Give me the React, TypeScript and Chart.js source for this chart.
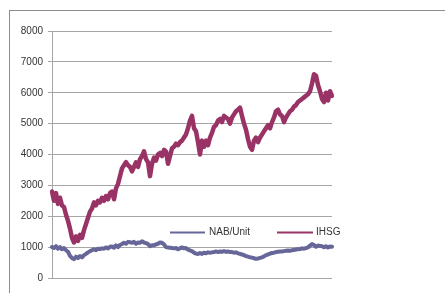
import React, { useEffect, useRef } from "react";
import { Chart, registerables } from "chart.js";

Chart.register(...registerables);

const IHSG: number[] = [
  2800, 2500, 2750, 2400, 2600, 2350, 2300, 2050, 1850, 1600,
  1300, 1150, 1350, 1200, 1400, 1300, 1550, 1750, 1950, 2150,
  2250, 2450, 2350, 2500, 2450, 2600, 2500, 2650, 2550, 2750,
  2800, 2550, 2900, 3050, 3300, 3550, 3650, 3750, 3650, 3600,
  3450, 3600, 3750, 3600, 3850, 3950, 4100, 3850, 3750, 3300,
  3700, 3900, 3800, 4000, 4050, 3950, 4150, 4100, 3700, 3950,
  4200, 4250, 4350, 4300, 4400, 4450, 4550, 4650, 4850, 5100,
  5250, 4850, 4750, 4400, 4000, 4450, 4250, 4450, 4300, 4550,
  4700, 4900, 4950, 5100, 5150, 5050, 5250, 5200, 5150, 5000,
  5200, 5300, 5400, 5450, 5520, 5250, 5000, 4800, 4500, 4250,
  4150, 4450, 4550, 4400, 4550, 4650, 4750, 4850, 4950, 4850,
  5050, 5200, 5400, 5450, 5300, 5250, 5050, 5200, 5300, 5400,
  5450, 5550, 5600, 5700, 5750, 5800, 5850, 5900, 5950, 6050,
  6300, 6600, 6550, 6250, 6050, 5800, 5700, 6000, 5750, 6050,
  5900,
];

const NAB_UNIT: number[] = [
  1000, 970, 1030, 950, 1000, 930, 970, 900, 850, 720,
  650, 610, 690, 650, 710, 670, 740, 780, 830, 870,
  900, 930, 900, 950, 940, 960, 950, 990, 960, 1010,
  1020, 980, 1060, 1000, 1070, 1100, 1140, 1110, 1170, 1160,
  1140, 1170, 1110, 1150, 1140, 1190, 1150, 1130, 1100, 1030,
  1060, 1060, 1090, 1110, 1150, 1140, 1090, 1000, 990, 980,
  970, 960, 970, 930, 960, 990, 960, 970, 920, 890,
  870, 820, 790, 780, 810, 780, 820, 800, 830, 820,
  830, 840, 860, 840, 860, 850, 870, 850, 860, 840,
  840, 820, 830, 800, 780, 760, 740, 710, 690, 670,
  660, 640, 620, 630, 650, 670, 700, 740, 760, 790,
  810, 820, 840, 850, 860, 860, 870, 880, 890, 880,
  900, 910, 920, 930, 940, 960, 950, 970, 990, 1050,
  1100, 1070, 1010, 1050, 1040, 1030, 1000, 1030, 990, 1020,
  1010,
];

const PERIODS: string[] = IHSG.map((_, i) => `T${i + 1}`);

const SERIES_NAMES = ["NAB/Unit", "IHSG"];
const SERIES_COLORS = ["#666699", "#993366"];

const legendPlugin = {
  id: "innerLegend",
  afterDraw(chart: any) {
    const ctx = chart.ctx;
    const y = 232.5;
    const items = [
      { x0: 170, x1: 205, tx: 209 },
      { x0: 277, x1: 313, tx: 316 },
    ];
    ctx.save();
    ctx.font = "10px 'Liberation Sans', Arial, sans-serif";
    ctx.textBaseline = "middle";
    ctx.textAlign = "left";
    chart.data.datasets.forEach((ds: any, i: number) => {
      const it = items[i];
      ctx.strokeStyle = ds.borderColor;
      ctx.lineWidth = 2;
      ctx.beginPath();
      ctx.moveTo(it.x0, y);
      ctx.lineTo(it.x1, y);
      ctx.stroke();
      ctx.fillStyle = "#333333";
      ctx.fillText(ds.label, it.tx, y);
    });
    ctx.restore();
  },
};

export default function App() {
  const ref = useRef<HTMLCanvasElement | null>(null);

  useEffect(() => {
    if (!ref.current) return;
    const chart = new Chart(ref.current, {
      type: "line",
      data: {
        labels: PERIODS,
        datasets: [
          {
            label: SERIES_NAMES[0],
            data: NAB_UNIT,
            borderColor: SERIES_COLORS[0],
            backgroundColor: SERIES_COLORS[0],
            borderWidth: 4,
            borderJoinStyle: "round",
            borderCapStyle: "round",
            pointRadius: 0,
            tension: 0,
          },
          {
            label: SERIES_NAMES[1],
            data: IHSG,
            borderColor: SERIES_COLORS[1],
            backgroundColor: SERIES_COLORS[1],
            borderWidth: 4.5,
            borderJoinStyle: "round",
            borderCapStyle: "round",
            pointRadius: 0,
            tension: 0,
          },
        ],
      },
      options: {
        animation: false,
        responsive: false,
        devicePixelRatio: 1,
        layout: { padding: { left: 0, right: 113, top: 31, bottom: 15 } },
        plugins: { legend: { display: false }, tooltip: { enabled: false } },
        scales: {
          x: { display: false },
          y: {
            min: 0,
            max: 8000,
            afterFit(scale: any) {
              scale.width = 52;
            },
            ticks: {
              stepSize: 1000,
              padding: 5,
              color: "#333333",
              font: { family: "'Liberation Sans', Arial, sans-serif", size: 10 },
              callback: (v: any) => String(v),
            },
            grid: { color: "#a6a6a6", tickLength: 4, lineWidth: 1 },
            border: { color: "#a6a6a6" },
          },
        },
      },
      plugins: [legendPlugin],
    });
    return () => chart.destroy();
  }, []);

  return (
    <div style={{ position: "absolute", left: 0, top: 0, width: 445, height: 293, background: "#fff", overflow: "hidden" }}>
      <div
        style={{
          position: "absolute",
          left: 9,
          top: 10,
          width: 440,
          height: 290,
          borderLeft: "1px solid #8c8c8c",
          borderTop: "1px solid #8c8c8c",
        }}
      />
      <canvas ref={ref} width={445} height={293} style={{ position: "absolute", left: 0, top: 0 }} />
    </div>
  );
}
